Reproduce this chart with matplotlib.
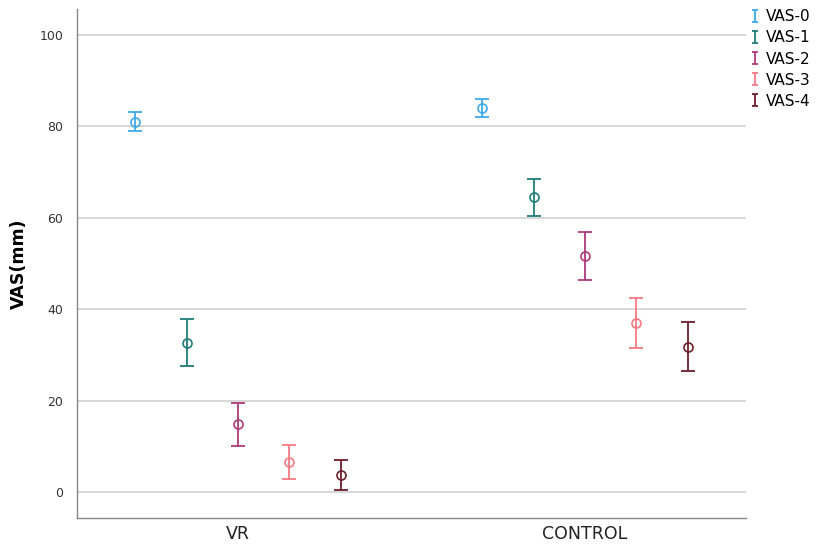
import numpy as np
import matplotlib
matplotlib.use("Agg")
import matplotlib.pyplot as plt
from matplotlib.path import Path
from matplotlib.lines import Line2D

groups = ["VR", "CONTROL"]
series = ["VAS-0", "VAS-1", "VAS-2", "VAS-3", "VAS-4"]
colors = ["#3fa9ec", "#1f7c78", "#ad3a78", "#f87a82", "#6e1e2b"]

# mean, lower, upper for each series in [VR, CONTROL]
means = [[81.0, 84.0], [32.7, 64.5], [14.8, 51.7], [6.6, 37.0], [3.8, 31.8]]
lower = [[78.9, 82.0], [27.5, 60.5], [10.1, 46.3], [2.8, 31.5], [0.4, 26.5]]
upper = [[83.1, 86.0], [37.8, 68.5], [19.4, 57.0], [10.3, 42.5], [7.0, 37.1]]

fig = plt.figure(figsize=(8.18, 5.44), dpi=100)
ax = fig.add_axes([0.0941, 0.0478, 0.8179, 0.9357])

x = np.arange(len(groups))
step = 0.148
for i, name in enumerate(series):
    xs = x + (i - 2) * step
    m = np.array(means[i])
    lo = m - np.array(lower[i])
    hi = np.array(upper[i]) - m
    ax.errorbar(xs, m, yerr=[lo, hi], fmt="none", ecolor=colors[i],
                elinewidth=1.3, capsize=4.7, capthick=1.3, zorder=3)
    ax.plot(xs, m, "o", mfc="none", mec=colors[i], ms=6.5, mew=1.2, zorder=4)

ax.set_xlim(-0.464, 1.464)
ax.set_ylim(-5.7, 105.7)
ax.set_yticks([0, 20, 40, 60, 80, 100])
ax.set_xticks(x)
ax.set_xticklabels(groups, fontsize=12.5, color="#222222")
ax.tick_params(axis="y", length=0, labelsize=9, colors="#333333", pad=10)
ax.tick_params(axis="x", length=0, pad=5)
ax.yaxis.grid(True, color="#d4d4d4", lw=1.3)
ax.set_axisbelow(True)
for s in ["top", "right"]:
    ax.spines[s].set_visible(False)
for s in ["left", "bottom"]:
    ax.spines[s].set_color("#888888")
    ax.spines[s].set_linewidth(1.0)
ax.set_ylabel("VAS(mm)", fontsize=12.5, fontweight="bold", labelpad=8)

# "I" shaped legend symbol like an error bar
ibar = Path([(-0.5, 1), (0.5, 1), (0, 1), (0, -1), (-0.5, -1), (0.5, -1)],
            [Path.MOVETO, Path.LINETO, Path.MOVETO, Path.LINETO,
             Path.MOVETO, Path.LINETO])
handles = [Line2D([], [], ls="none", marker=ibar, ms=8, mfc="none",
                  mec=c, mew=1.3) for c in colors]
fig.legend(handles, series, loc="upper left", bbox_to_anchor=(0.909, 0.994),
           frameon=False, fontsize=11, handlelength=0.7, handletextpad=0.35,
           labelspacing=0.4, borderaxespad=0)

fig.savefig("out.png", dpi=100)
